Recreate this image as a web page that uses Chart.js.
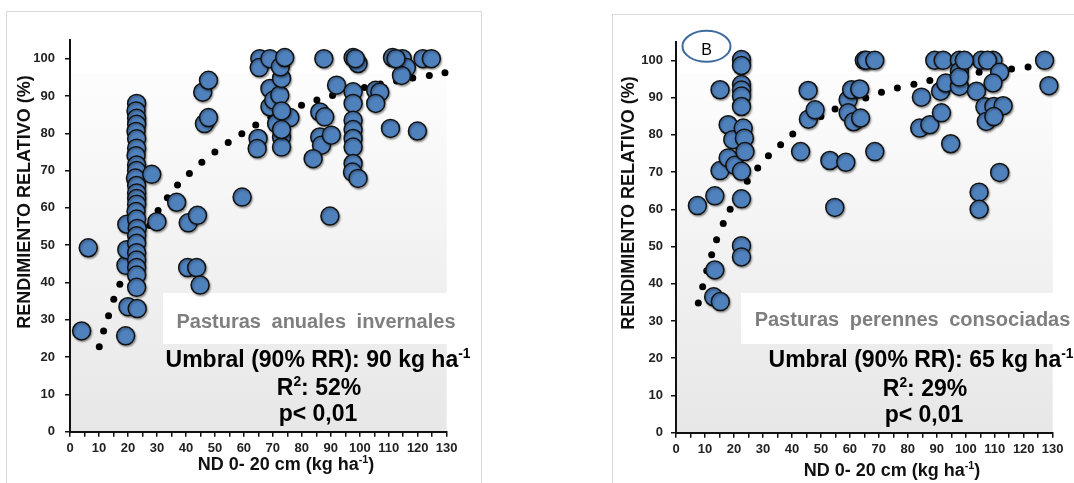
<!DOCTYPE html>
<html>
<head>
<meta charset="utf-8">
<script src="https://cdn.jsdelivr.net/npm/chart.js@4.4.1/dist/chart.umd.min.js"></script>
<style>
  body { margin: 0; background: #fff; width: 1074px; height: 483px; overflow: hidden; position: relative; }
  .frame { position: absolute; border: 1px solid #d9d9d9; }
  canvas { position: absolute; top: 0; }
</style>
</head>
<body>
<div class="frame" style="left:6px;top:11px;width:474px;height:500px"></div>
<div class="frame" style="left:612px;top:14px;width:500px;height:500px"></div>
<canvas id="chartA" width="482" height="483" style="left:0"></canvas>
<canvas id="chartB" width="484" height="483" style="left:590px"></canvas>
<script>
// Pasturas anuales invernales: ND 0-20 cm (kg/ha) vs rendimiento relativo (%)
const anualesN = [4, 6.3, 19.2, 20, 19.3, 19.6, 19.6,
  23, 22.8, 23, 23, 22.8, 23, 23, 22.8, 23, 23, 22.6, 23, 23, 23, 23, 22.8, 23, 23.2, 23, 23, 23, 23, 23, 23, 23, 23.2,
  28.2, 30, 36.8, 40.8, 44, 40.6, 43.7, 44.9, 45.8, 47.8, 46.4, 47.8, 59.4,
  65.5, 65.3, 64.9, 64.6, 69, 69, 69, 70.3, 71.3, 72.4, 73, 72.6, 74.1, 73, 73, 75.9, 73, 73,
  87.6, 86.2, 87.9, 86.2, 86.8, 83.9, 90.2, 89.7, 92,
  97.7, 99.4, 97.7, 97.7, 97.7, 97.7, 97.7, 97.7, 97.7, 97.5, 99.4, 98.5,
  105.5, 106.9, 105.5, 110.6, 111.3, 114.7, 116.1, 114.4, 119.9, 121.8, 124.7, 112.5];
const anualesRR = [27, 49.3, 25.7, 33.5, 44.6, 48.8, 55.6,
  88, 86, 84, 82.4, 80.5, 78.5, 76, 74, 71.5, 70, 68, 66, 64, 62.5, 61, 59, 57, 54.5, 52.5, 50.5, 48, 46, 44, 42, 38.7, 33,
  69, 56.3, 61.5, 56, 58, 44, 44, 39.3, 91, 94.2, 82.6, 84.2, 62.9,
  100, 97.6, 78.6, 75.9, 100, 92, 87.1, 88.9, 82.6, 90.2, 94.7, 97.8, 100.3, 79, 76.3, 84.2, 86, 81,
  100, 85.7, 84.4, 79, 76.8, 73.2, 79.5, 57.8, 92.9,
  100.3, 98.7, 91.1, 88, 83.5, 81, 78.6, 76.3, 71.9, 69.6, 67.9, 100,
  91.5, 91, 88, 81.3, 100.3, 100, 97.6, 95.5, 80.6, 100, 100, 100];
const anualesCurvaN = [10.1, 11.6, 13.3, 15.1, 17.2, 19.5, 22, 24.7, 27.5, 30.4, 33.6, 37.1, 41.2, 45.5, 50,
  54.6, 59.3, 64.1, 69.3, 74.5, 79.9, 85.2, 90.6, 96.1, 101.6, 107.1, 112.7, 118.3, 124, 129.4];
const anualesCurvaRR = [22.8, 27, 31.1, 35.5, 39.5, 43.3, 47, 50.8, 55.3, 59.3, 62.7, 66.1, 69.2, 72.2, 75,
  77.5, 79.9, 82.2, 84.3, 86, 87.5, 88.9, 90.1, 91.3, 92.3, 93.2, 94, 94.8, 95.5, 96.2];

// Pasturas perennes consociadas
const perennesN = [7.4, 13.4, 13.4, 13, 15.3, 15.2, 15.2, 18, 19.6, 18, 20.3,
  22.6, 22.6, 22.6, 22.6, 22.6, 22.6, 23.2, 23.6, 23.8, 22.6, 22.6, 22.6, 22.6,
  43, 45.6, 45.7, 48, 53.1, 58.6, 54.8, 59.4, 60.6, 63.4, 59.4, 61.3, 63.7, 65, 65.7, 68.6, 68.6,
  84.7, 84.1, 87.6, 89.3, 92.2, 91.3, 93.1, 91.6, 94.8, 97.8, 97.8, 97.8,
  103.7, 105.4, 109.4, 107.5, 111.7, 109.4, 106.6, 109.7, 112.9, 107.1, 109.7, 111.7, 104.6, 104.6,
  127.2, 128.7, 97.8, 99.5];
const perennesRR = [61, 63.6, 43.7, 36.5, 35.2, 92.1, 70.4, 82.7, 78.7, 73.8, 71.8,
  100.2, 98.6, 93.5, 92, 90.4, 87.6, 81.8, 79.1, 75.5, 70.2, 62.8, 50.2, 47.2,
  75.5, 91.9, 84.2, 86.7, 73.1, 72.6, 60.5, 89.4, 92.1, 92.3, 85.9, 83.5, 84.5, 100, 100, 100, 75.5,
  90.1, 81.8, 82.7, 100, 100, 91.7, 93.9, 85.9, 77.6, 100, 97, 93,
  91.7, 100, 100, 100, 96.8, 93.9, 87.5, 87.6, 87.8, 83.6, 84.9, 69.9, 64.6, 60,
  100, 93.2, 95.5, 100];
const perennesCurvaN = [7.7, 9.2, 10.6, 12.3, 14, 16.3, 18.7, 21.5, 24.6, 28.2, 31.9, 36.1, 40.3, 45.1, 50,
  54.9, 60.2, 65.5, 70.9, 76.4, 82.1, 87.6, 93.2, 98.8, 104.6, 110.2, 115.8, 121.5];
const perennesCurvaRR = [34.8, 39.2, 43.5, 47.8, 51.8, 56.2, 60, 63.8, 67.5, 71.1, 74.4, 77.3, 80.2, 82.8, 84.9,
  86.9, 88.5, 89.9, 91.4, 92.6, 93.6, 94.6, 95.3, 96, 96.8, 97.3, 97.7, 98.2];

const xTicks = [0, 10, 20, 30, 40, 50, 60, 70, 80, 90, 100, 110, 120, 130];

const FONT = '"Liberation Sans", Arial, Helvetica, sans-serif';
const toPoints = (xs, ys) => xs.map((x, i) => ({ x: x, y: ys[i] }));

function drawParts(ctx, parts, cx, baseline, size, color, wordSpace) {
  ctx.save();
  ctx.fillStyle = color;
  ctx.textAlign = 'left';
  ctx.textBaseline = 'alphabetic';
  if ('wordSpacing' in ctx) ctx.wordSpacing = (wordSpace || 0) + 'px';
  const fontFor = p => 'bold ' + (p.sup ? size * 0.6 : size) + 'px ' + FONT;
  const widths = parts.map(p => { ctx.font = fontFor(p); return ctx.measureText(p.t).width; });
  let x = cx - widths.reduce((a, b) => a + b, 0) / 2;
  parts.forEach((p, i) => {
    ctx.font = fontFor(p);
    ctx.fillText(p.t, x, p.sup ? baseline - size * 0.4 : baseline);
    x += widths[i];
  });
  ctx.restore();
}

const panelPlugin = {
  id: 'panel',
  beforeDraw(chart, args, o) {
    const { ctx, chartArea: a } = chart;
    const top = a.top + o.fadeTop;
    const g = ctx.createLinearGradient(0, top, 0, a.bottom);
    g.addColorStop(0, '#fdfdfd');
    g.addColorStop(1, '#e7e7e7');
    ctx.save();
    ctx.fillStyle = g;
    ctx.fillRect(a.left, top, a.right - a.left, a.bottom - top);
    ctx.fillStyle = '#ffffff';
    ctx.fillRect(o.box.x, o.box.y, o.box.w, o.box.h);
    ctx.restore();
  },
  beforeDatasetDraw(chart, args) {
    if (args.index !== 0) return;
    const ctx = chart.ctx;
    ctx.save();
    ctx.shadowColor = 'rgba(0,0,0,0.35)';
    ctx.shadowBlur = 2;
    ctx.shadowOffsetX = 1;
    ctx.shadowOffsetY = 1.5;
  },
  afterDatasetDraw(chart, args) {
    if (args.index === 0) chart.ctx.restore();
  },
  afterDraw(chart, args, o) {
    const ctx = chart.ctx;
    o.labels.forEach(l => drawParts(ctx, l.parts, l.x, l.y, l.size, l.color, l.ws));
    // axis titles
    ctx.save();
    ctx.translate(o.yTitle.x, o.yTitle.y);
    ctx.rotate(-Math.PI / 2);
    ctx.font = 'bold 18px ' + FONT;
    ctx.fillStyle = '#111';
    ctx.textAlign = 'center';
    ctx.textBaseline = 'middle';
    ctx.fillText('RENDIMIENTO RELATIVO (%)', 0, 0);
    ctx.restore();
    drawParts(ctx, [{ t: 'ND 0- 20 cm (kg ha' }, { t: '-1', sup: true }, { t: ')' }], o.xTitle.x, o.xTitle.y, 18, '#111');
    if (o.badge) {
      ctx.save();
      ctx.strokeStyle = '#3e6c9f';
      ctx.lineWidth = 2;
      ctx.beginPath();
      ctx.ellipse(o.badge.x, o.badge.y, 24, 15.5, 0, 0, Math.PI * 2);
      ctx.stroke();
      ctx.fillStyle = '#000';
      ctx.font = '16px ' + FONT;
      ctx.textAlign = 'center';
      ctx.textBaseline = 'alphabetic';
      ctx.fillText(o.badge.text, o.badge.x, o.badge.y + 8.5);
      ctx.restore();
    }
  }
};

function buildChart(id, pts, curva, geom, panel) {
  const tickFont = { family: FONT, size: 13, weight: 'bold' };
  return new Chart(document.getElementById(id), {
    type: 'scatter',
    data: {
      datasets: [{
        data: pts,
        backgroundColor: '#4f81bd',
        borderColor: '#111',
        borderWidth: 1.5,
        pointRadius: 9,
        clip: false
      }, {
        data: curva,
        backgroundColor: '#000',
        borderWidth: 0,
        pointRadius: 3.5,
        clip: false
      }]
    },
    options: {
      responsive: false,
      animation: false,
      events: [],
      layout: { padding: { top: geom.top, left: 0, right: geom.right, bottom: 0 } },
      plugins: { legend: { display: false }, tooltip: { enabled: false }, panel: panel },
      scales: {
        x: {
          type: 'linear', min: 0, max: 130,
          afterFit: s => { s.height = geom.xHeight; },
          ticks: {
            stepSize: 5, autoSkip: false, maxRotation: 0, padding: 4,
            font: tickFont, color: '#222',
            callback: v => xTicks.includes(v) ? v : ''
          },
          grid: { drawOnChartArea: false, drawTicks: true, tickLength: 5, color: '#111', lineWidth: 1.5 },
          border: { display: true, color: '#111', width: 2 }
        },
        y: {
          min: 0, max: 105,
          afterFit: s => { s.width = geom.yWidth; },
          ticks: { stepSize: 10, includeBounds: false, padding: geom.yPad, font: tickFont, color: '#222' },
          grid: { drawOnChartArea: false, drawTicks: true, tickLength: 5, color: '#111', lineWidth: 1.5 },
          border: { display: true, color: '#111', width: 2 }
        }
      }
    },
    plugins: [panelPlugin]
  });
}

buildChart('chartA',
  toPoints(anualesN, anualesRR),
  toPoints(anualesCurvaN, anualesCurvaRR),
  { top: 40, right: 35.3, xHeight: 51.3, yWidth: 70, yPad: 10 },
  {
    fadeTop: 33,
    box: { x: 163, y: 293, w: 284, h: 51 },
    labels: [
      { parts: [{ t: 'Pasturas anuales invernales' }], x: 316, y: 328, size: 20, color: '#7f7f7f', ws: 5 },
      { parts: [{ t: 'Umbral (90% RR): 90 kg ha' }, { t: '-1', sup: true }], x: 318, y: 367, size: 23, color: '#000' },
      { parts: [{ t: 'R' }, { t: '2', sup: true }, { t: ': 52%' }], x: 319, y: 395, size: 23, color: '#000' },
      { parts: [{ t: 'p< 0,01' }], x: 318, y: 421, size: 23, color: '#000' }
    ],
    yTitle: { x: 25, y: 202 },
    xTitle: { x: 286, y: 470 }
  });

buildChart('chartB',
  toPoints(perennesN, perennesRR),
  toPoints(perennesCurvaN, perennesCurvaRR),
  { top: 41.7, right: 21.3, xHeight: 50.3, yWidth: 86, yPad: 8 },
  {
    fadeTop: 32,
    box: { x: 151, y: 293, w: 312, h: 51 },
    labels: [
      { parts: [{ t: 'Pasturas perennes consociadas' }], x: 322.5, y: 326, size: 20, color: '#7f7f7f', ws: 5 },
      { parts: [{ t: 'Umbral (90% RR): 65 kg ha' }, { t: '-1', sup: true }], x: 331, y: 367, size: 23, color: '#000' },
      { parts: [{ t: 'R' }, { t: '2', sup: true }, { t: ': 29%' }], x: 335, y: 396, size: 23, color: '#000' },
      { parts: [{ t: 'p< 0,01' }], x: 334, y: 422, size: 23, color: '#000' }
    ],
    yTitle: { x: 39, y: 203 },
    xTitle: { x: 302, y: 476 },
    badge: { x: 116.5, y: 46.3, text: 'B' }
  });
</script>
</body>
</html>
